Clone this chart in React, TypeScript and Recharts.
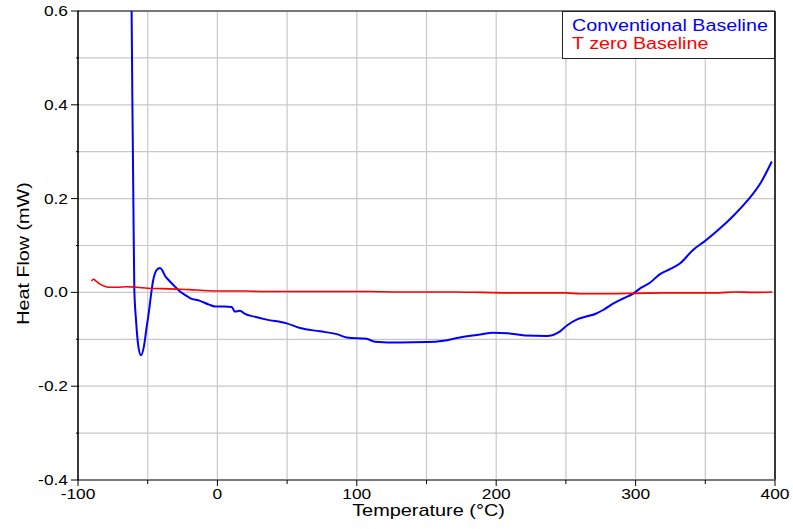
import React from "react";
import {
  LineChart,
  Line,
  XAxis,
  YAxis,
  CartesianGrid,
  ReferenceLine,
  Label,
} from "recharts";

// Conventional Baseline (blue)
const convTemp = [
  -62.0, -61.6, -61.0, -60.3, -59.6, -58.4, -56.7, -54.8, -52.7, -50.7, -49.6, -46.0,
  -43.5, -41.2, -39.5, -37.5, -35.2, -31.0, -26.8, -23.0, -19.7, -12.5, -6.0, -1.7,
  5.0, 10.2, 12.6, 14.5, 16.2, 19.8, 27.0, 35.4, 49.7, 59.3, 73.6, 85.6, 92.8, 107.0,
  113.0, 131.0, 150.0, 162.0, 174.0, 188.4, 197.6, 208.0, 220.6, 236.0, 245.8, 251.0,
  257.7, 264.0, 271.0, 277.0, 283.8, 291.0, 298.0, 304.0, 310.0, 317.5, 325.0, 332.0,
  341.0, 350.0, 360.0, 370.0, 380.0, 390.0, 397.7,
];
const convHeat = [
  0.7, 0.62, 0.41, 0.2, 0.006, -0.058, -0.115, -0.134, -0.115, -0.073, -0.051, 0.027,
  0.048, 0.052, 0.047, 0.035, 0.027, 0.014, 0.002, -0.006, -0.012, -0.018, -0.026, -0.03,
  -0.03, -0.031, -0.041, -0.04, -0.039, -0.046, -0.052, -0.058, -0.066, -0.076, -0.083, -0.089, -0.096, -0.099,
  -0.105, -0.107, -0.106, -0.103, -0.096, -0.09, -0.086, -0.087, -0.092, -0.093, -0.083, -0.07,
  -0.058, -0.052, -0.046, -0.037, -0.024, -0.013, -0.003, 0.01, 0.02, 0.039, 0.05, 0.062,
  0.09, 0.11, 0.135, 0.163, 0.195, 0.235, 0.279,
];

// T zero Baseline (red)
const tzeroTemp = [
  -90.2, -89, -87, -84.5, -81, -78, -72, -65, -58, -50, -40, -30, -20, -10, 0, 10, 20, 30,
  50, 70, 90, 110, 130, 150, 170, 190, 210, 230, 250, 260, 280, 300, 320, 340, 360, 370,
  385, 398,
];
const tzeroHeat = [
  0.024, 0.028, 0.024, 0.018, 0.013, 0.011, 0.011, 0.012, 0.011, 0.009, 0.008, 0.007, 0.006,
  0.004, 0.003, 0.003, 0.003, 0.002, 0.002, 0.002, 0.002, 0.002, 0.001, 0.001, 0.001, 0.0,
  -0.001, -0.001, -0.001, -0.003, -0.003, -0.002, -0.001, -0.001, -0.001, 0.001, 0.0, 0.001,
];

const xTicks = [-100, -50, 0, 50, 100, 150, 200, 250, 300, 350, 400];
const yTicks = [-0.4, -0.3, -0.2, -0.1, 0, 0.1, 0.2, 0.3, 0.4, 0.5, 0.6];

const series = [
  { name: "Conventional Baseline", color: "#0000ff", width: 2, temp: convTemp, heat: convHeat },
  { name: "T zero Baseline", color: "#ff0000", width: 1.6, temp: tzeroTemp, heat: tzeroHeat },
];

const FONT = '"Liberation Sans", Arial, sans-serif';

function XTick(props: any) {
  const { x, y, payload } = props;
  const major = payload.value % 100 === 0;
  return (
    <g>
      <line x1={x} x2={x} y1={y} y2={y + (major ? 6 : 4)} stroke="#000" strokeWidth={1} />
      {major && (
        <text
          transform={`translate(${x},${y + 14}) scale(1.24,1)`}
          dy="0.355em"
          textAnchor="middle"
          fontSize={14}
          fontFamily={FONT}
          fill="#000"
        >
          {payload.value}
        </text>
      )}
    </g>
  );
}

function YTick(props: any) {
  const { x, y, payload } = props;
  const major = Math.round(payload.value * 10) % 2 === 0;
  return (
    <g>
      <line x1={x - (major ? 7 : 2)} x2={x + 1} y1={y} y2={y} stroke="#000" strokeWidth={1} />
      {major && (
        <text
          transform={`translate(${x - 10},${y}) scale(1.24,1)`}
          dy="0.355em"
          textAnchor="end"
          fontSize={14}
          fontFamily={FONT}
          fill="#000"
        >
          {payload.value.toFixed(1)}
        </text>
      )}
    </g>
  );
}

export default function App() {
  const lines = series.map((s) => ({
    ...s,
    data: s.temp.map((t, i) => ({ t, v: s.heat[i] })),
  }));

  return (
    <div
      style={{
        position: "absolute",
        left: 0,
        top: 0,
        width: 793,
        height: 529,
        background: "#fff",
        fontFamily: FONT,
      }}
    >
      <LineChart width={793} height={529} margin={{ top: 11, right: 18, bottom: 19, left: 18 }}>
        <CartesianGrid stroke="#c8c8c8" strokeWidth={1.2} />
        <XAxis
          type="number"
          dataKey="t"
          domain={[-100, 400]}
          ticks={xTicks}
          allowDataOverflow
          height={30}
          tickSize={0}
          tickMargin={0}
          tickLine={false}
          tick={<XTick />}
          axisLine={{ stroke: "#7a7a7a", strokeWidth: 2 }}
        >
          <Label
            content={(p: any) => {
              const vb = p.viewBox;
              return (
                <text
                  transform={`translate(${vb.x + vb.width / 2 + 2},${516}) scale(1.17,1)`}
                  textAnchor="middle"
                  fontSize={17}
                  fontFamily={FONT}
                  fill="#000"
                >
                  Temperature (°C)
                </text>
              );
            }}
          />
        </XAxis>
        <YAxis
          type="number"
          dataKey="v"
          domain={[-0.4, 0.6]}
          ticks={yTicks}
          allowDataOverflow
          width={60}
          tickSize={0}
          tickMargin={0}
          tickLine={false}
          tick={<YTick />}
          axisLine={{ stroke: "#000", strokeWidth: 1.5 }}
        >
          <Label
            content={(p: any) => {
              const vb = p.viewBox;
              return (
                <text
                  transform={`translate(${29},${vb.y + vb.height / 2 + 8}) rotate(-90) scale(1.16,1)`}
                  textAnchor="middle"
                  fontSize={17}
                  fontFamily={FONT}
                  fill="#000"
                >
                  Heat Flow (mW)
                </text>
              );
            }}
          />
        </YAxis>
        <ReferenceLine y={0.6} stroke="#555" strokeWidth={1.5} />
        <ReferenceLine x={400} stroke="#000" strokeWidth={1.5} />
        {lines.map((s) => (
          <Line
            key={s.name}
            data={s.data}
            dataKey="v"
            name={s.name}
            type="monotone"
            stroke={s.color}
            strokeWidth={s.width}
            dot={false}
            activeDot={false}
            isAnimationActive={false}
          />
        ))}
      </LineChart>
      <div
        style={{
          position: "absolute",
          left: 562,
          top: 11,
          width: 213,
          height: 48,
          boxSizing: "border-box",
          border: "1px solid #222",
          background: "#fff",
          paddingLeft: 9,
          paddingTop: 5,
        }}
      >
        {series.map((s) => (
          <div
            key={s.name}
            style={{
              color: s.color,
              fontSize: 16,
              lineHeight: "18px",
              whiteSpace: "nowrap",
              transform: "scaleX(1.23)",
              transformOrigin: "left center",
            }}
          >
            {s.name}
          </div>
        ))}
      </div>
    </div>
  );
}
